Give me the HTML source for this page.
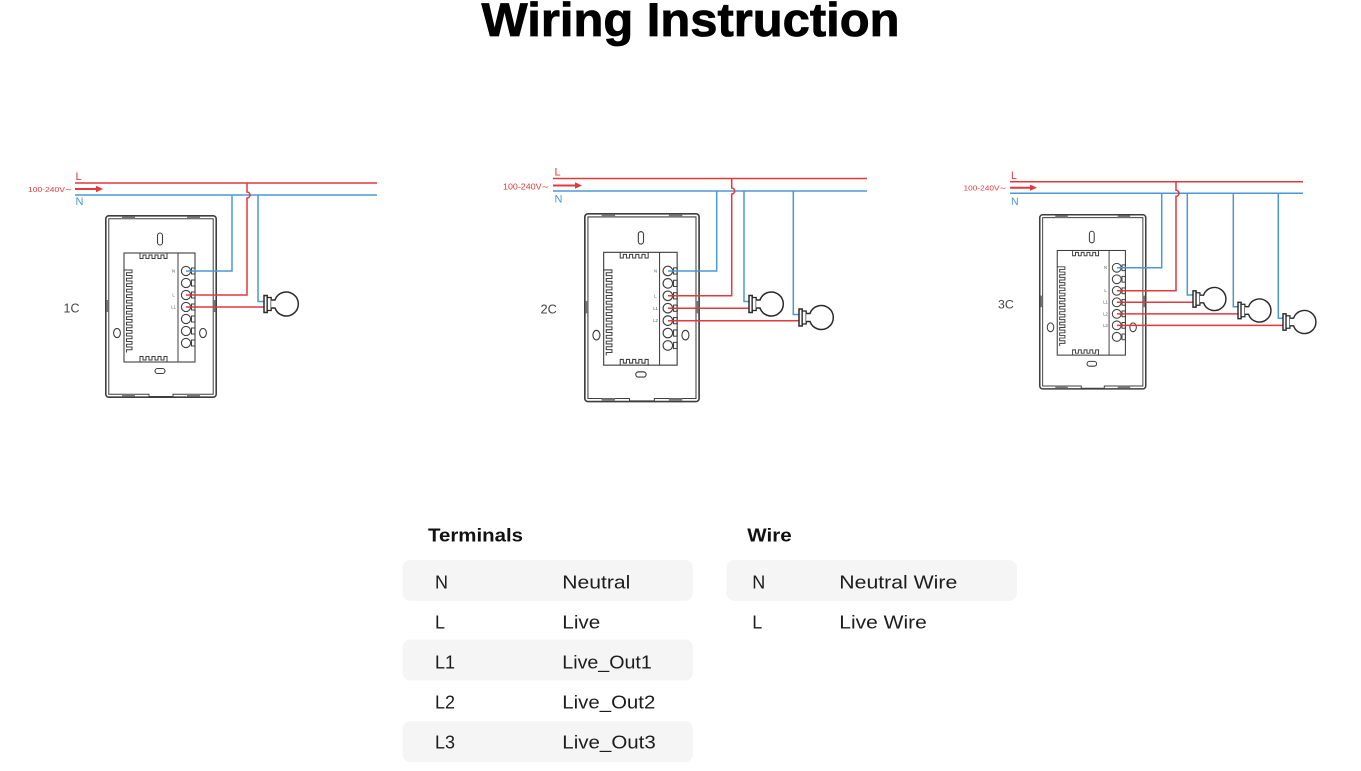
<!DOCTYPE html>
<html>
<head>
<meta charset="utf-8">
<style>
  html,body{margin:0;padding:0;background:#fff;}
  body{width:1361px;height:771px;overflow:hidden;}
  svg{display:block;}
  .t{font-family:"Liberation Sans",sans-serif;}
</style>
</head>
<body>
<svg width="1361" height="771" viewBox="0 0 1361 771" xmlns="http://www.w3.org/2000/svg">
  <defs>
    <g id="sw" fill="none" stroke="#3f3f3f">
      <rect x="0.8" y="0.8" width="110.4" height="181.4" rx="3" stroke-width="1.6"/>
      <path d="M3.8 3.8 H108.2 V179.2 H68 V181.5 H44 V179.2 H3.8 Z" stroke-width="1"/>
      <rect x="17" y="1.6" width="13" height="2.4" fill="#777" stroke="none"/>
      <rect x="82" y="1.6" width="13" height="2.4" fill="#777" stroke="none"/>
      <rect x="17" y="179" width="13" height="2.4" fill="#777" stroke="none"/>
      <rect x="82" y="179" width="13" height="2.4" fill="#777" stroke="none"/>
      <rect x="1.6" y="85" width="2.2" height="12" fill="#777" stroke="none"/>
      <rect x="108.2" y="85" width="2.2" height="12" fill="#777" stroke="none"/>
      <rect x="52.5" y="18" width="5" height="12" rx="2.5" stroke-width="1.1"/>
      <rect x="50" y="153.5" width="10" height="5" rx="2.5" stroke-width="1.1"/>
      <ellipse cx="12" cy="118" rx="3.4" ry="4.6" stroke-width="1.1"/>
      <ellipse cx="98" cy="118" rx="3.4" ry="4.6" stroke-width="1.1"/>
      <rect x="19" y="38" width="71" height="109" stroke-width="1.1"/>
      <line x1="73" y1="38" x2="73" y2="147" stroke-width="1"/>
      <path d="M35 38 V43.5 H38 V40 H41 V43.5 H44 V40 H47 V43.5 H50 V40 H53 V43.5 H56 V40 H59 V43.5 H62 V38" stroke-width="1"/>
      <path d="M35 147 V141.5 H38 V145 H41 V141.5 H44 V145 H47 V141.5 H50 V145 H53 V141.5 H56 V145 H59 V141.5 H62 V147" stroke-width="1"/>
      <path d="M21.5 55 H27 v2.75 H21.5 v2.75 H27 v2.75 H21.5 v2.75 H27 v2.75 H21.5 v2.75 H27 v2.75 H21.5 v2.75 H27 v2.75 H21.5 v2.75 H27 v2.75 H21.5 v2.75 H27 v2.75 H21.5 v2.75 H27 v2.75 H21.5 v2.75 H27 v2.75 H21.5 v2.75 H27 v2.75 H21.5 v2.75 H27 v2.75 H21.5 v2.75 H27 v2.75 H21.5 v2.75 H27 v2.75 H21.5 v2.75 H27 v2.75 H21.5 v2.75 H27 v2.75 H21.5 v2.75 M21.5 55 H19" stroke-width="1"/>
      <g fill="#fff" stroke-width="1.1">
        <circle cx="81" cy="56" r="4.6"/>
        <circle cx="81" cy="68" r="4.6"/>
        <circle cx="81" cy="80" r="4.6"/>
        <circle cx="81" cy="92" r="4.6"/>
        <circle cx="81" cy="104" r="4.6"/>
        <circle cx="81" cy="116" r="4.6"/>
        <circle cx="81" cy="128" r="4.6"/>
      </g>
      <g stroke-width="1">
        <rect x="86.5" y="53" width="3.5" height="6"/>
        <rect x="86.5" y="65" width="3.5" height="6"/>
        <rect x="86.5" y="77" width="3.5" height="6"/>
        <rect x="86.5" y="89" width="3.5" height="6"/>
        <rect x="86.5" y="101" width="3.5" height="6"/>
        <rect x="86.5" y="113" width="3.5" height="6"/>
        <rect x="86.5" y="125" width="3.5" height="6"/>
      </g>
    </g>
    <g id="lamp">
      <rect x="0" y="-8.5" width="3.2" height="17" fill="#fff" stroke="#2a2a2a" stroke-width="1.5"/>
      <rect x="3.2" y="-6.5" width="4" height="13" fill="#fff" stroke="#2a2a2a" stroke-width="1.3"/>
      <path d="M7.2 -4 H11 A12 12 0 1 1 11 4 H7.2" fill="#fff" stroke="#2a2a2a" stroke-width="1.5"/>
    </g>
  </defs>

  <!-- Title -->
  <text class="t" x="481.5" y="36" font-size="47" font-weight="bold" fill="#000" stroke="#000" stroke-width="0.8" textLength="418" lengthAdjust="spacingAndGlyphs">Wiring Instruction</text>

  <!-- ============ 1C ============ -->
  <use href="#sw" transform="translate(105,215)"/>
  <g fill="none" stroke-width="1.5">
    <path d="M75 183 H377" stroke="#e2393e"/>
    <path d="M75 195 H377" stroke="#4a98d6"/>
    <path d="M232 195 V271 H186" stroke="#4a98d6"/>
    <path d="M258 195 V301.5 H264" stroke="#4a98d6"/>
    <path d="M247 183 V192 A3 3 0 0 1 247 198 V295 H186" stroke="#e2393e"/>
    <path d="M186 307 H264" stroke="#e2393e"/>
  </g>
  <use href="#lamp" transform="translate(264,304)"/>
  <path d="M75 189 H97" stroke="#e2393e" stroke-width="2"/>
  <polygon points="96,185.8 103,189 96,192.2" fill="#e2393e"/>
  <text class="t" x="72" y="192" font-size="7.6" fill="#e2393e" text-anchor="end" textLength="44" lengthAdjust="spacingAndGlyphs">100-240V∼</text>
  <text class="t" x="75.5" y="180" font-size="11" fill="#e2393e">L</text>
  <text class="t" x="75.5" y="205" font-size="11" fill="#4a98d6">N</text>
  <text class="t" x="63.5" y="312.3" font-size="12.5" fill="#444">1C</text>
  <g class="t" font-size="4.2" fill="#555" text-anchor="middle">
    <text x="173.5" y="272.5">N</text>
    <text x="173.5" y="296.5">L</text>
    <text x="173.5" y="308.5">L1</text>
  </g>

  <!-- ============ 2C ============ -->
  <use href="#sw" transform="translate(584,213) scale(1.035)"/>
  <g fill="none" stroke-width="1.5">
    <path d="M553 178.5 H867" stroke="#e2393e"/>
    <path d="M553 191 H867" stroke="#4a98d6"/>
    <path d="M716.7 191 V271 H668" stroke="#4a98d6"/>
    <path d="M744 191 V301.5 H749" stroke="#4a98d6"/>
    <path d="M793.3 191 V314.5 H799" stroke="#4a98d6"/>
    <path d="M731.7 178.5 V188 A3 3 0 0 1 731.7 194 V295.8 H668" stroke="#e2393e"/>
    <path d="M668 308.3 H749" stroke="#e2393e"/>
    <path d="M668 320.7 H799" stroke="#e2393e"/>
  </g>
  <use href="#lamp" transform="translate(749,304)"/>
  <use href="#lamp" transform="translate(799,317.5)"/>
  <path d="M553 185.5 H576" stroke="#e2393e" stroke-width="2"/>
  <polygon points="575,182.3 582,185.5 575,188.7" fill="#e2393e"/>
  <text class="t" x="549" y="189.3" font-size="7.8" fill="#e2393e" text-anchor="end" textLength="46" lengthAdjust="spacingAndGlyphs">100-240V∼</text>
  <text class="t" x="554.5" y="175.7" font-size="11" fill="#e2393e">L</text>
  <text class="t" x="554.5" y="202.7" font-size="11" fill="#4a98d6">N</text>
  <text class="t" x="540.5" y="313.3" font-size="12.8" fill="#444">2C</text>
  <g class="t" font-size="4.3" fill="#555" text-anchor="middle">
    <text x="655.5" y="272.5">N</text>
    <text x="655.5" y="297.3">L</text>
    <text x="655.5" y="309.8">L1</text>
    <text x="655.5" y="322.2">L2</text>
  </g>

  <!-- ============ 3C ============ -->
  <use href="#sw" transform="translate(1039,214) scale(0.96)"/>
  <g fill="none" stroke-width="1.5">
    <path d="M1010 181.7 H1303" stroke="#e2393e"/>
    <path d="M1010 193.3 H1303" stroke="#4a98d6"/>
    <path d="M1161.7 193.3 V267.8 H1117" stroke="#4a98d6"/>
    <path d="M1187.3 193.3 V295 H1193" stroke="#4a98d6"/>
    <path d="M1233.3 193.3 V306.7 H1238" stroke="#4a98d6"/>
    <path d="M1278.3 193.3 V318.3 H1283" stroke="#4a98d6"/>
    <path d="M1176 181.7 V190.3 A3 3 0 0 1 1176 196.3 V290.8 H1117" stroke="#e2393e"/>
    <path d="M1117 302.3 H1193" stroke="#e2393e"/>
    <path d="M1117 313.9 H1238" stroke="#e2393e"/>
    <path d="M1117 325.4 H1283" stroke="#e2393e"/>
  </g>
  <use href="#lamp" transform="translate(1193,299) scale(0.96)"/>
  <use href="#lamp" transform="translate(1238,310.5) scale(0.96)"/>
  <use href="#lamp" transform="translate(1283,322) scale(0.96)"/>
  <path d="M1010 187.7 H1031" stroke="#e2393e" stroke-width="2"/>
  <polygon points="1030,184.6 1037,187.7 1030,190.8" fill="#e2393e"/>
  <text class="t" x="1006.5" y="190.6" font-size="7.4" fill="#e2393e" text-anchor="end" textLength="43" lengthAdjust="spacingAndGlyphs">100-240V∼</text>
  <text class="t" x="1011" y="179" font-size="10.6" fill="#e2393e">L</text>
  <text class="t" x="1011" y="205" font-size="10.6" fill="#4a98d6">N</text>
  <text class="t" x="998" y="308.3" font-size="12.3" fill="#444">3C</text>
  <g class="t" font-size="4.1" fill="#555" text-anchor="middle">
    <text x="1105.5" y="269.2">N</text>
    <text x="1105.5" y="292.2">L</text>
    <text x="1105.5" y="303.7">L1</text>
    <text x="1105.5" y="315.3">L2</text>
    <text x="1105.5" y="326.8">L3</text>
  </g>

  <!-- ============ Tables ============ -->
  <g fill="#f5f5f5">
    <rect x="402.5" y="560" width="290.5" height="41" rx="8"/>
    <rect x="402.5" y="639.5" width="290.5" height="41" rx="8"/>
    <rect x="402.5" y="721" width="290.5" height="41" rx="8"/>
    <rect x="726.5" y="560" width="290.5" height="41" rx="8"/>
  </g>
  <g class="t" fill="#111">
    <text x="428" y="541.7" font-size="18.5" font-weight="bold" textLength="95" lengthAdjust="spacingAndGlyphs">Terminals</text>
    <text x="747.3" y="541.7" font-size="18.5" font-weight="bold" textLength="44.4" lengthAdjust="spacingAndGlyphs">Wire</text>
  </g>
  <g class="t" fill="#1c1c1c" font-size="18">
    <text x="435" y="588.5">N</text>
    <text x="562.3" y="588.5" textLength="68" lengthAdjust="spacingAndGlyphs">Neutral</text>
    <text x="435" y="628.5">L</text>
    <text x="562.3" y="628.5" textLength="38" lengthAdjust="spacingAndGlyphs">Live</text>
    <text x="435" y="668.5">L1</text>
    <text x="562.3" y="668.5" textLength="89.5" lengthAdjust="spacingAndGlyphs">Live_Out1</text>
    <text x="435" y="708.5">L2</text>
    <text x="562.3" y="708.5" textLength="93" lengthAdjust="spacingAndGlyphs">Live_Out2</text>
    <text x="435" y="748.5">L3</text>
    <text x="562.3" y="748.5" textLength="93.5" lengthAdjust="spacingAndGlyphs">Live_Out3</text>

    <text x="752.3" y="588.5">N</text>
    <text x="839.3" y="588.5" textLength="118" lengthAdjust="spacingAndGlyphs">Neutral Wire</text>
    <text x="752.3" y="628.5">L</text>
    <text x="839.3" y="628.5" textLength="87.5" lengthAdjust="spacingAndGlyphs">Live Wire</text>
  </g>
</svg>
</body>
</html>
